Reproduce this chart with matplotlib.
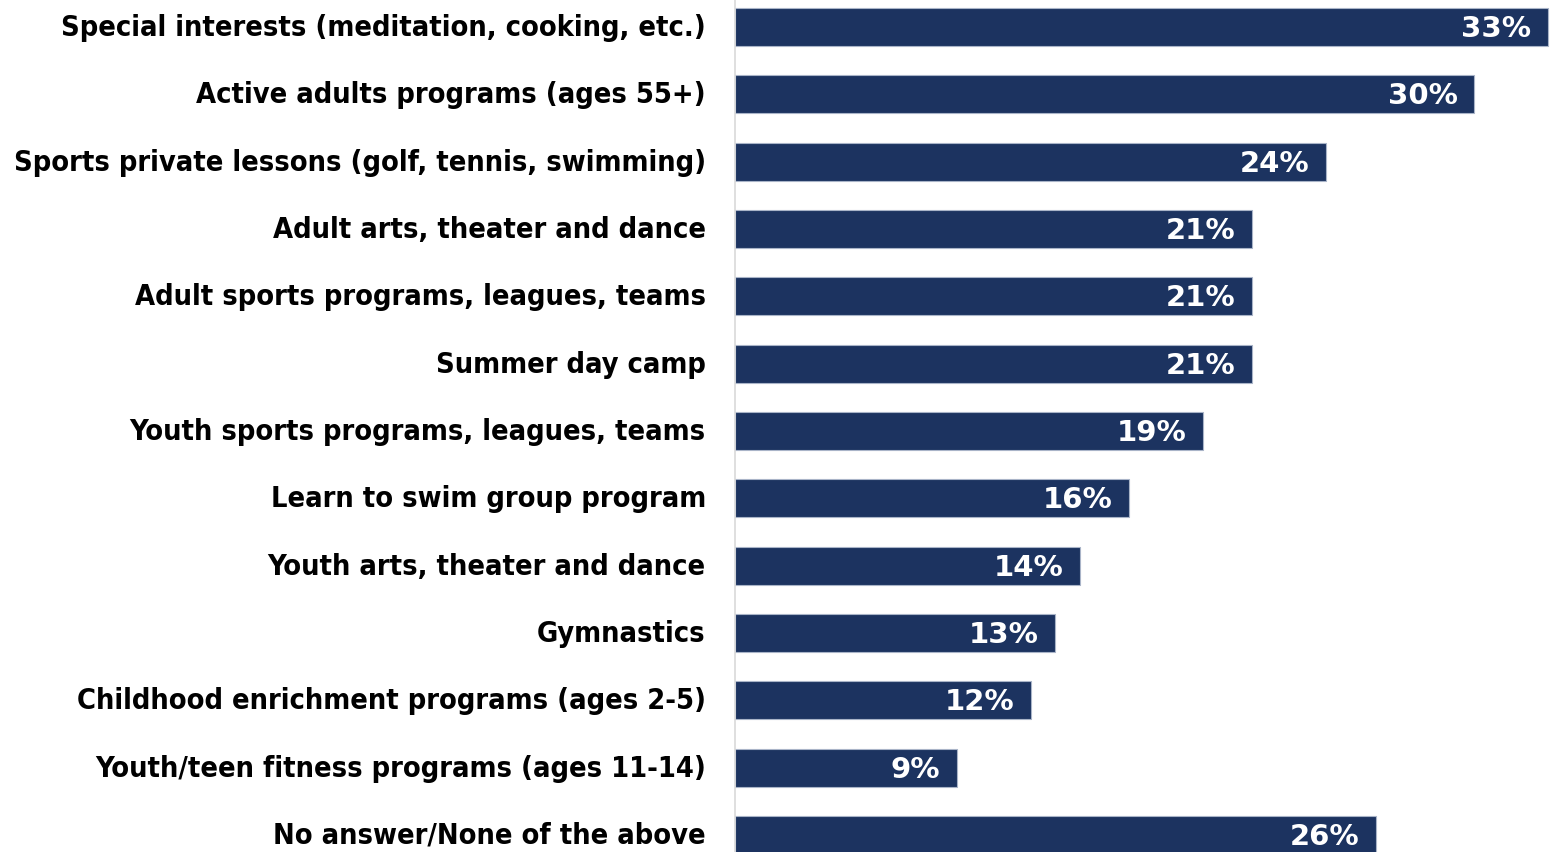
import matplotlib
matplotlib.use("Agg")
import matplotlib.pyplot as plt
from matplotlib.transforms import ScaledTranslation

categories = [
    "Special interests (meditation, cooking, etc.)",
    "Active adults programs (ages 55+)",
    "Sports private lessons (golf, tennis, swimming)",
    "Adult arts, theater and dance",
    "Adult sports programs, leagues, teams",
    "Summer day camp",
    "Youth sports programs, leagues, teams",
    "Learn to swim group program",
    "Youth arts, theater and dance",
    "Gymnastics",
    "Childhood enrichment programs (ages 2-5)",
    "Youth/teen fitness programs (ages 11-14)",
    "No answer/None of the above",
]
values = [33, 30, 24, 21, 21, 21, 19, 16, 14, 13, 12, 9, 26]
value_labels = [f"{v}%" for v in values]

BAR_COLOR = "#1C3360"
W, H = 1556, 852
fig = plt.figure(figsize=(W / 100, H / 100), dpi=100)
ax = fig.add_axes([735 / W, 0, (W - 735) / W, 1])

ypos = list(range(len(categories)))
ax.barh(ypos, values, height=0.565, color=BAR_COLOR, edgecolor="#A9B4C8", linewidth=0.8)

ax.set_xlim(0, (W - 735) / 24.64)
ax.set_ylim(12.253, -0.401)

ax.set_yticks(ypos)
ax.set_yticklabels(categories, fontsize=20.8, fontweight="bold", family="DejaVu Sans",
                   fontstretch="condensed")
ax.tick_params(axis="y", length=0, pad=21)
ax.set_xticks([])
shift = ScaledTranslation(0, 2 / 100, fig.dpi_scale_trans)
for lbl in ax.get_yticklabels():
    lbl.set_transform(lbl.get_transform() + shift)

for s in ["top", "right", "bottom"]:
    ax.spines[s].set_visible(False)
ax.spines["left"].set_color("#D9D9D9")
ax.spines["left"].set_linewidth(1.2)

for y, v, lab in zip(ypos, values, value_labels):
    ax.text(v - 0.68, y + 0.03, lab, ha="right", va="center", color="white",
            fontsize=21, fontweight="bold", family="DejaVu Sans")

fig.savefig("out.png", dpi=100)
